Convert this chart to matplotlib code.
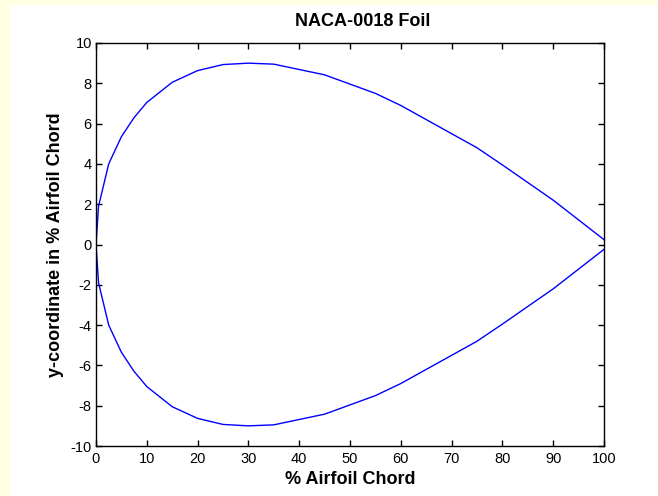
import matplotlib
matplotlib.use("Agg")
import matplotlib.pyplot as plt
from matplotlib.patches import Rectangle

# NACA-0018 half-thickness, in % chord
chord_pct = [0, 0.5, 2.5, 5, 7.5, 10, 15, 20, 25, 30, 35, 45, 55, 60, 75, 80, 90, 100]
half_thick = [0, 1.9, 4.0, 5.35, 6.3, 7.05, 8.05, 8.63, 8.93, 9.0, 8.95, 8.42, 7.5,
              6.9, 4.8, 3.95, 2.2, 0.24]

# trace upper surface from trailing edge to nose, then lower surface back
xs = chord_pct[::-1] + chord_pct[1:]
ys = half_thick[::-1] + [-v for v in half_thick[1:]]

plt.rcParams['font.family'] = ['Liberation Sans', 'DejaVu Sans']
plt.rcParams['axes.unicode_minus'] = False

fig = plt.figure(figsize=(6.58, 4.96), dpi=100)
fig.patch.set_facecolor('#ffffe1')
# white panel, leaving a yellow strip on the left and top
fig.add_artist(Rectangle((10 / 658, 0), 1, 491 / 496, transform=fig.transFigure,
                         facecolor='white', edgecolor='none', zorder=-5))

ax = fig.add_axes([96 / 658, 50 / 496, 508 / 658, 403 / 496])
ax.plot(xs, ys, color='#0000ff', linewidth=1.0)
ax.set_xlim(0, 100)
ax.set_ylim(-10, 10)
ax.set_xticks(range(0, 101, 10))
ax.set_yticks(range(-10, 11, 2))
ax.tick_params(direction='in', length=4, width=1, labelsize=10.5, top=True, right=True, pad=3)
ax.tick_params(axis='x', pad=4)
for s in ax.spines.values():
    s.set_linewidth(1.0)

ax.set_title('NACA-0018 Foil', fontsize=13, fontweight='bold', pad=12, x=0.525)
ax.set_xlabel('% Airfoil Chord', fontsize=13, fontweight='bold', labelpad=4)
ax.set_ylabel('y-coordinate in % Airfoil Chord', fontsize=13, fontweight='bold', labelpad=5)

fig.savefig('out.png', dpi=100, facecolor=fig.get_facecolor())
